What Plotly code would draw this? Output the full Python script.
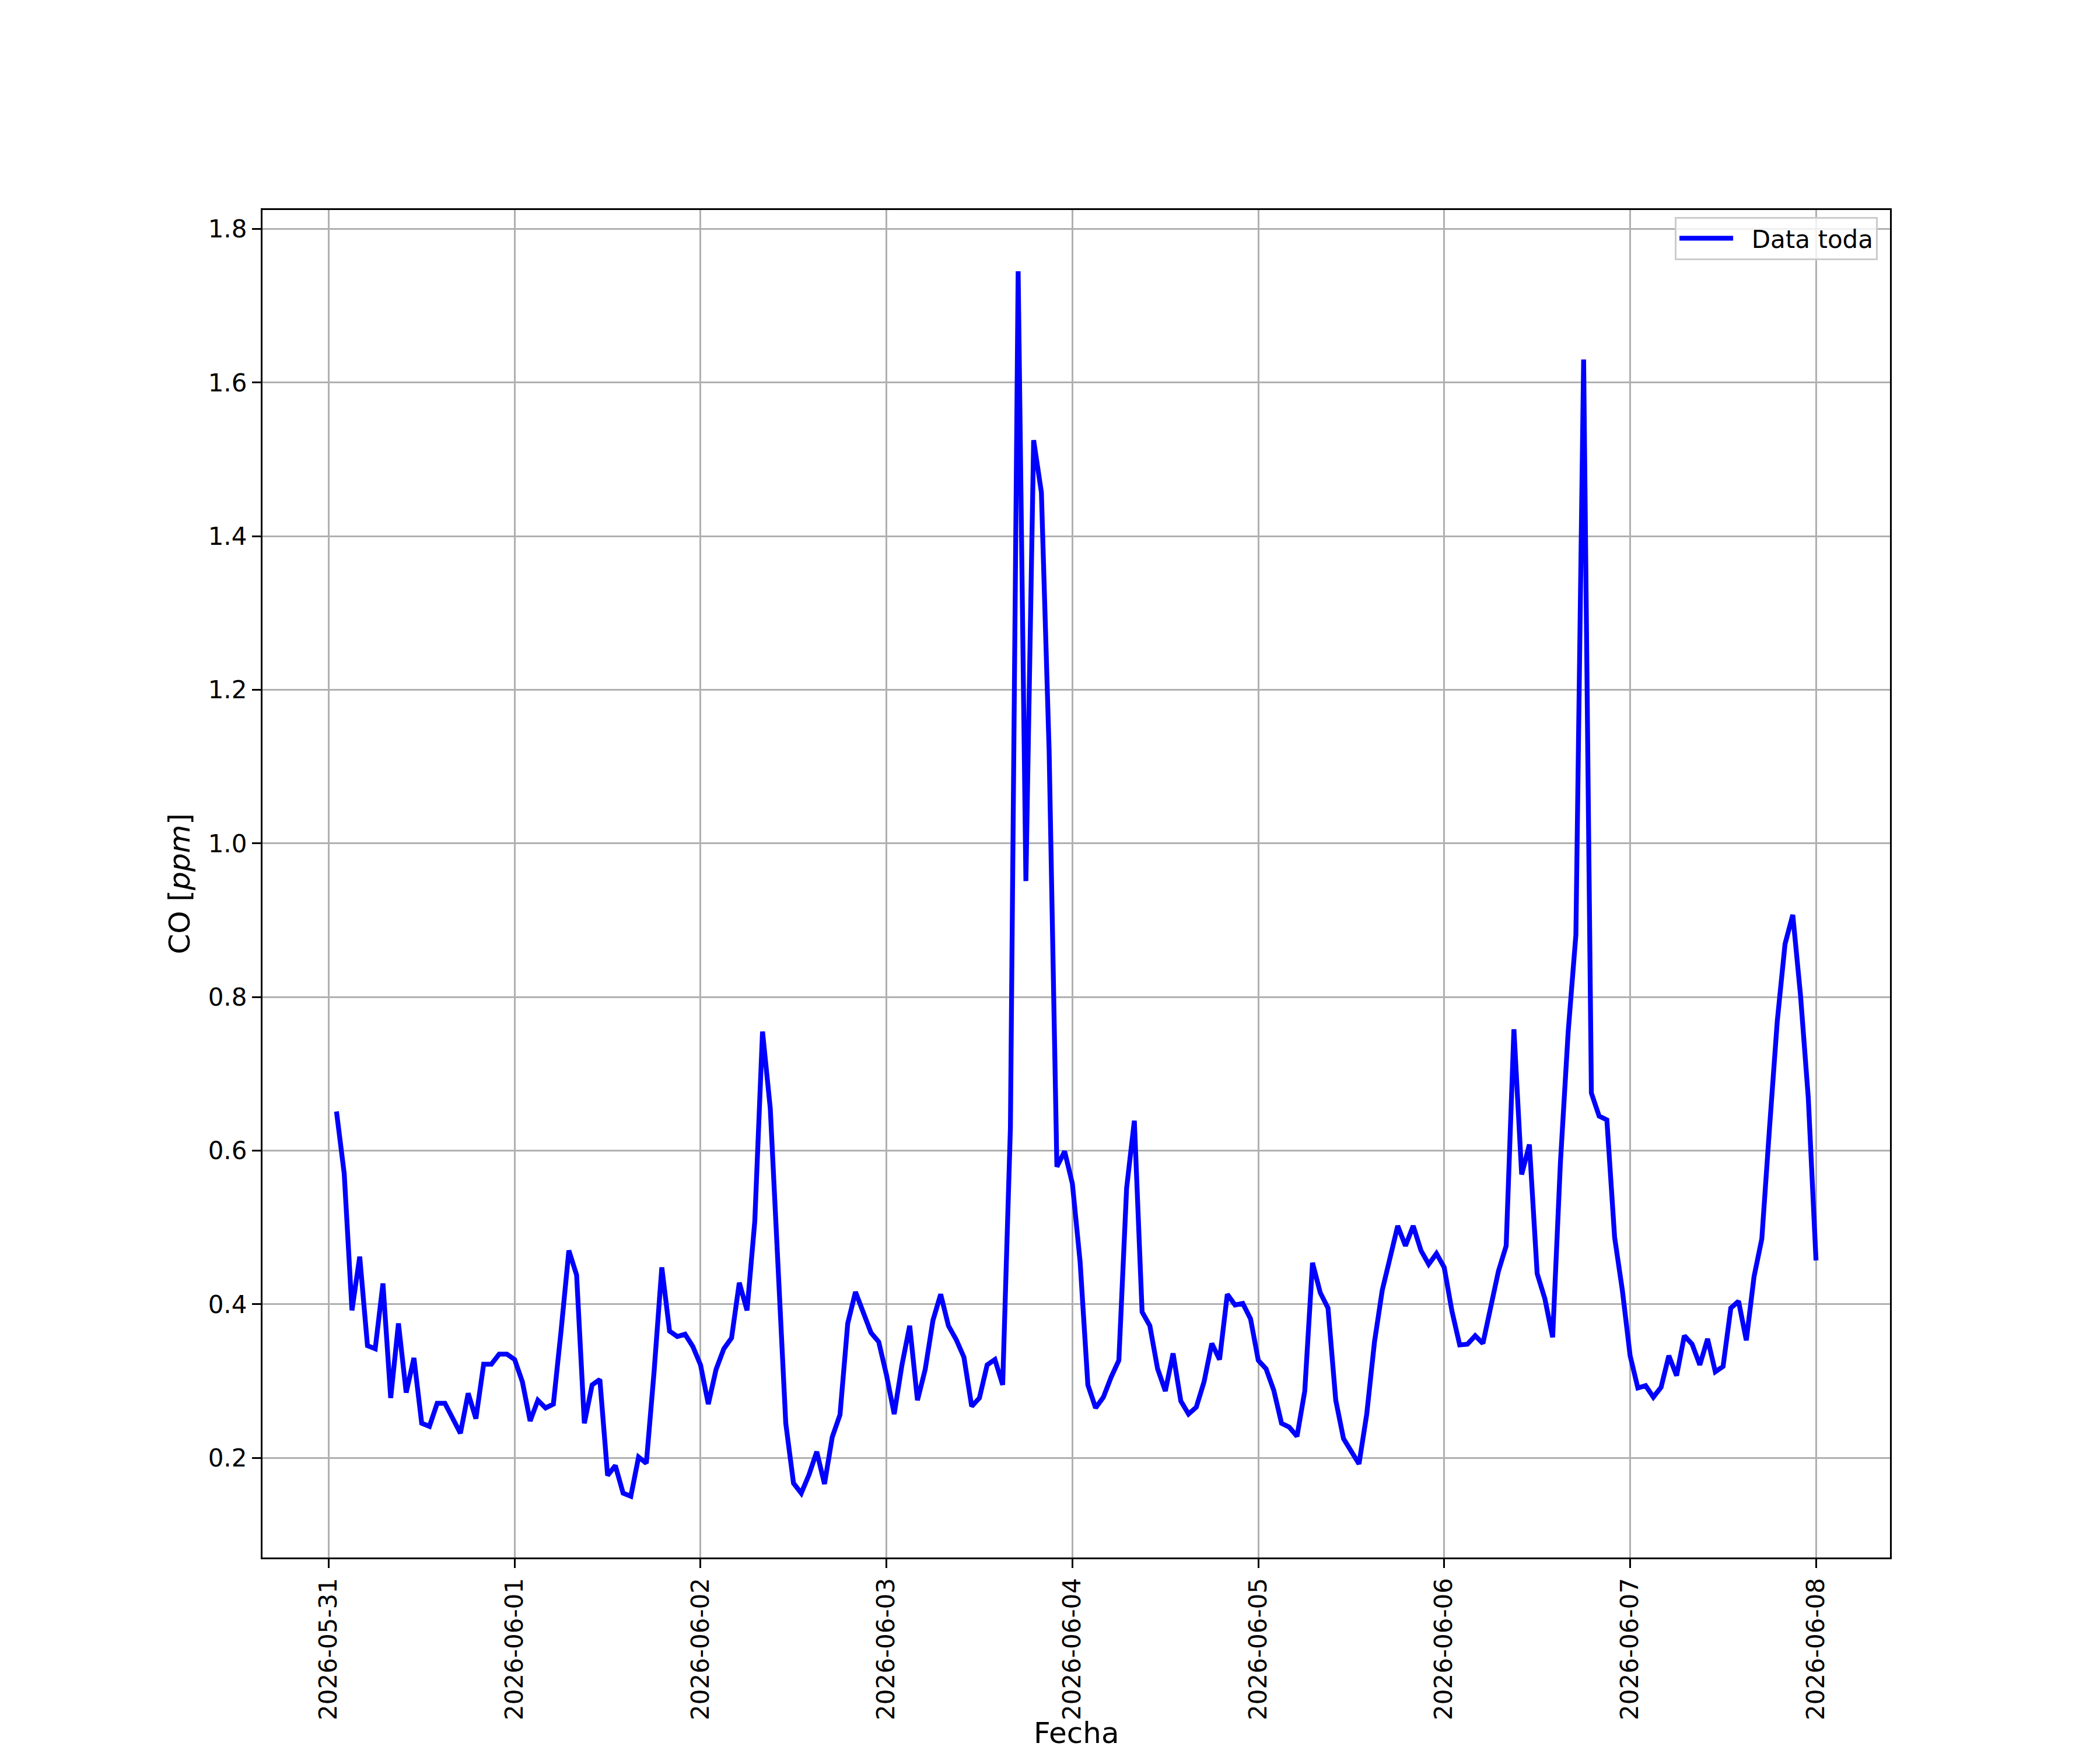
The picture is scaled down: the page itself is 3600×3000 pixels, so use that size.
import pandas as pd
import plotly.graph_objects as go

# Data: CO hourly
start = "2026-05-31 01:00"
co_ppm = [
    0.651, 0.570, 0.392, 0.462, 0.346, 0.342, 0.427, 0.278, 0.375, 0.285, 0.330, 0.245,
    0.241, 0.271, 0.271, 0.250, 0.232, 0.284, 0.251, 0.322, 0.322, 0.335, 0.335, 0.328,
    0.299, 0.248, 0.275, 0.265, 0.270, 0.366, 0.470, 0.438, 0.245, 0.295, 0.302, 0.177,
    0.190, 0.154, 0.150, 0.201, 0.193, 0.312, 0.448, 0.365, 0.358, 0.361, 0.345, 0.321,
    0.270, 0.315, 0.342, 0.356, 0.428, 0.392, 0.508, 0.755, 0.655, 0.450, 0.245, 0.167,
    0.154, 0.178, 0.208, 0.166, 0.227, 0.256, 0.375, 0.416, 0.390, 0.363, 0.351, 0.308,
    0.257, 0.321, 0.372, 0.275, 0.315, 0.379, 0.413, 0.372, 0.354, 0.331, 0.267, 0.278,
    0.321, 0.328, 0.295, 0.630, 1.745, 0.951, 1.525, 1.457, 1.120, 0.579, 0.599, 0.557,
    0.455, 0.295, 0.265, 0.279, 0.305, 0.327, 0.551, 0.639, 0.390, 0.372, 0.316, 0.287,
    0.336, 0.274, 0.257, 0.266, 0.299, 0.349, 0.328, 0.413, 0.399, 0.401, 0.381, 0.327,
    0.316, 0.288, 0.245, 0.240, 0.228, 0.287, 0.454, 0.415, 0.395, 0.275, 0.225, 0.208,
    0.192, 0.257, 0.351, 0.418, 0.463, 0.502, 0.476, 0.502, 0.470, 0.452, 0.466, 0.448,
    0.391, 0.347, 0.348, 0.359, 0.349, 0.396, 0.443, 0.476, 0.758, 0.569, 0.608, 0.440,
    0.407, 0.357, 0.584, 0.754, 0.881, 1.630, 0.675, 0.645, 0.640, 0.487, 0.418, 0.333,
    0.291, 0.294, 0.279, 0.292, 0.333, 0.307, 0.359, 0.348, 0.321, 0.355, 0.312, 0.319,
    0.395, 0.404, 0.353, 0.436, 0.485, 0.630, 0.769, 0.869, 0.907, 0.802, 0.669, 0.457,
]
fechas = pd.date_range(start, periods=len(co_ppm), freq="h")
y_ticks = [0.2, 0.4, 0.6, 0.8, 1.0, 1.2, 1.4, 1.6, 1.8]
x_ticks = pd.date_range("2026-05-31", "2026-06-08", freq="D")

# matplotlib-like 5% margins
t0, t1 = fechas.min(), fechas.max()
dt = (t1 - t0) * 0.05
ymin, ymax = min(co_ppm), max(co_ppm)
dy = (ymax - ymin) * 0.05

fig = go.Figure()
fig.add_trace(go.Scatter(
    x=fechas, y=co_ppm, mode="lines", name="\u00a0\u00a0Data toda",
    line=dict(color="#0000ff", width=8.3),
))

font = dict(family="DejaVu Sans", size=42, color="black")
label_font = dict(family="DejaVu Sans", size=50, color="black")
axis_common = dict(
    showline=True, linecolor="black", linewidth=3.3, mirror=True,
    ticks="outside", ticklen=15, tickwidth=3.3, tickcolor="black",
    showgrid=True, gridcolor="#b0b0b0", gridwidth=3.3,
    zeroline=False, tickfont=font, automargin=False,
)

# page body has an 8px margin, so shift the figure back by that much
fig.update_layout(
    width=3592, height=2992,
    margin=dict(l=442, r=360, t=352, b=330),
    paper_bgcolor="white", plot_bgcolor="white",
    font=font,
    showlegend=True,
    legend=dict(
        x=0.9925, y=0.995, xanchor="right", yanchor="top",
        bgcolor="rgba(255,255,255,0.8)", bordercolor="#cccccc", borderwidth=3,
        font=font, itemwidth=92,
    ),
    xaxis=dict(
        axis_common, type="date", range=[t0 - dt, t1 + dt],
        tickvals=x_ticks, tickformat="%Y-%m-%d", tickangle=-90,
    ),
    yaxis=dict(
        axis_common, range=[ymin - dy, ymax + dy],
        tickvals=y_ticks, tickformat=".1f",
        title=dict(text="CO [<i>ppm</i>]", font=label_font, standoff=16),
    ),
)

# x label placed by hand, the axis title gets squeezed by the margin
fig.add_annotation(
    text="Fecha", font=label_font, showarrow=False,
    xref="paper", yref="paper", x=0.5, y=-0.1305,
    xanchor="center", yanchor="middle", borderpad=0,
)

fig.write_html("out.html")
